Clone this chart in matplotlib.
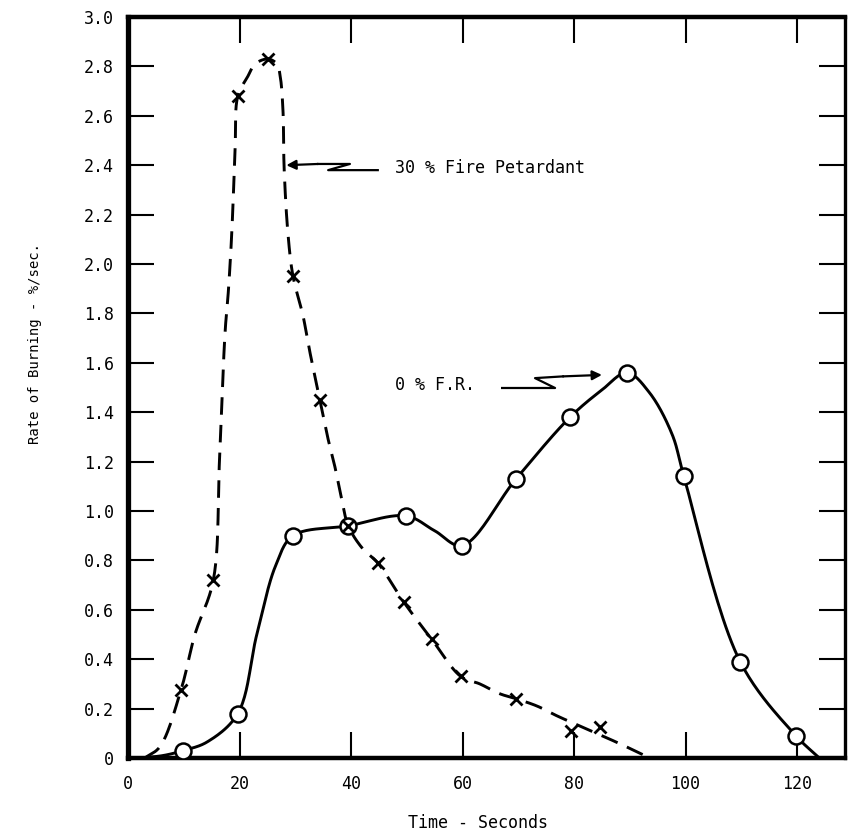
import numpy as np
import matplotlib
matplotlib.use("Agg")
import matplotlib.pyplot as plt

# ---------------- data ----------------
# 0 % F.R. (solid line, open circles)
fr0_x = [9.9, 19.7, 29.6, 39.5, 49.9, 59.9, 69.6, 79.3, 89.5, 99.7, 109.8, 119.8]
fr0_y = [0.03, 0.18, 0.90, 0.94, 0.98, 0.86, 1.13, 1.38, 1.56, 1.14, 0.39, 0.09]
# traced path of the solid curve
fr0_curve_x = [2.0, 6.3, 9.9, 14.2, 19.7, 23.1, 26.5, 29.6, 39.5, 49.9, 55.0, 59.9,
               69.6, 79.3, 85.0, 89.5, 93.5, 97.6, 99.7, 109.8, 119.8, 124.0]
fr0_curve_y = [0.0, 0.01, 0.03, 0.065, 0.18, 0.50, 0.78, 0.90, 0.94, 0.98, 0.92, 0.86,
               1.13, 1.38, 1.49, 1.56, 1.48, 1.31, 1.14, 0.39, 0.09, 0.0]

# 30 % Fire Retardant (dashed line, x markers)
fr30_x = [9.5, 15.3, 19.7, 25.1, 29.6, 34.4, 39.5, 44.8, 49.5, 54.5, 59.7, 69.6, 79.5, 84.7]
fr30_y = [0.275, 0.72, 2.68, 2.83, 1.95, 1.45, 0.94, 0.79, 0.63, 0.48, 0.33, 0.24, 0.11, 0.125]
# traced path of the dashed curve
fr30_curve_x = [3.0, 5.7, 9.5, 12.0, 15.3, 16.4, 17.4, 18.0, 18.6, 19.2, 19.7, 21.5, 22.8,
                25.1, 26.7, 27.3, 27.8, 28.0, 28.7, 29.6, 31.4, 32.3, 34.4, 35.9, 37.1,
                38.4, 39.5, 42.0, 44.8, 49.5, 54.5, 59.7, 63.1, 66.7, 69.6, 73.4, 77.0,
                82.0, 88.0, 93.6]
fr30_curve_y = [0.0, 0.045, 0.275, 0.50, 0.72, 1.20, 1.72, 1.89, 2.12, 2.45, 2.68, 2.76, 2.81,
                2.83, 2.81, 2.76, 2.62, 2.39, 2.12, 1.95, 1.79, 1.68, 1.45, 1.29, 1.18,
                1.04, 0.94, 0.85, 0.79, 0.63, 0.48, 0.33, 0.30, 0.26, 0.24, 0.21, 0.17,
                0.12, 0.06, 0.0]

x_ticks = [0, 20, 40, 60, 80, 100, 120]
x_tick_labels = ["0", "20", "40", "60", "80", "100", "120"]
y_ticks = [0, 0.2, 0.4, 0.6, 0.8, 1.0, 1.2, 1.4, 1.6, 1.8, 2.0, 2.2, 2.4, 2.6, 2.8, 3.0]
y_tick_labels = ["0", "0.2", "0.4", "0.6", "0.8", "1.0", "1.2", "1.4", "1.6", "1.8",
                 "2.0", "2.2", "2.4", "2.6", "2.8", "3.0"]

x_label = "Time - Seconds"
y_label = "Rate of Burning - %/sec."
label_fr30 = "30 % Fire Petardant"
label_fr0 = "0 % F.R."

XMAX, YMAX = 128.6, 3.0

# ---------------- smoothing helper (centripetal Catmull-Rom) ----------------
SX, SY = 5.575, 247.0  # approx. pixels per unit, to smooth in screen-like space


def smooth(xs, ys, n=25):
    P = np.column_stack([np.asarray(xs) * SX, np.asarray(ys) * SY])
    P = np.vstack([2 * P[0] - P[1], P, 2 * P[-1] - P[-2]])
    out = []
    for i in range(1, len(P) - 2):
        P0, P1, P2, P3 = P[i - 1], P[i], P[i + 1], P[i + 2]

        def tj(ti, a, b):
            return ti + max(np.linalg.norm(b - a), 1e-6) ** 0.5

        t0 = 0.0
        t1 = tj(t0, P0, P1)
        t2 = tj(t1, P1, P2)
        t3 = tj(t2, P2, P3)
        t = np.linspace(t1, t2, n)[:, None]
        A1 = (t1 - t) / (t1 - t0) * P0 + (t - t0) / (t1 - t0) * P1
        A2 = (t2 - t) / (t2 - t1) * P1 + (t - t1) / (t2 - t1) * P2
        A3 = (t3 - t) / (t3 - t2) * P2 + (t - t2) / (t3 - t2) * P3
        B1 = (t2 - t) / (t2 - t0) * A1 + (t - t0) / (t2 - t0) * A2
        B2 = (t3 - t) / (t3 - t1) * A2 + (t - t1) / (t3 - t1) * A3
        C = (t2 - t) / (t2 - t1) * B1 + (t - t1) / (t2 - t1) * B2
        out.append(C if i == 1 else C[1:])
    C = np.vstack(out)
    return C[:, 0] / SX, C[:, 1] / SY


# ---------------- figure ----------------
W, H = 848, 833
fig = plt.figure(figsize=(W / 100, H / 100), dpi=100)
ax = fig.add_axes([128 / W, 1 - 758 / H, (845 - 128) / W, (758 - 17) / H])
ax.set_xlim(0, XMAX)
ax.set_ylim(0, YMAX)

mono = "DejaVu Sans Mono"

# curves
cx, cy = smooth(fr30_curve_x, fr30_curve_y)
ax.plot(cx, cy, color="black", lw=2.1, linestyle=(0, (6, 3.5)), solid_capstyle="butt",
        clip_on=False, zorder=3)
sx_, sy_ = smooth(fr0_curve_x, fr0_curve_y)
ax.plot(sx_, sy_, color="black", lw=2.1, clip_on=False, zorder=3)

# markers
ax.plot(fr30_x, fr30_y, linestyle="none", marker="x", ms=9, mew=2.0, color="black", zorder=5)
ax.plot(fr0_x, fr0_y, linestyle="none", marker="o", ms=11.5, mew=1.8, mfc="white",
        mec="black", zorder=4)

# annotations
ax.plot([44.8, 35.9, 39.8, 34.1], [2.38, 2.38, 2.405, 2.405], color="black", lw=1.6,
        zorder=3)
ax.annotate("", xy=(28.4, 2.40), xytext=(34.1, 2.405),
            arrowprops=dict(arrowstyle="-|>", color="black", lw=1.6,
                            mutation_scale=14, shrinkA=0, shrinkB=0))
ax.text(47.9, 2.39, label_fr30, fontsize=12, family=mono, ha="left", va="center")

ax.plot([67.1, 76.6, 73.0, 78.0], [1.498, 1.498, 1.538, 1.545], color="black", lw=1.6,
        zorder=3)
ax.annotate("", xy=(85.0, 1.551), xytext=(78.0, 1.545),
            arrowprops=dict(arrowstyle="-|>", color="black", lw=1.6,
                            mutation_scale=14, shrinkA=0, shrinkB=0))
ax.text(47.9, 1.51, label_fr0, fontsize=12, family=mono, ha="left", va="center")

# ticks
ax.set_xticks(x_ticks)
ax.set_xticklabels(x_tick_labels, family=mono, fontsize=12)
ax.set_yticks(y_ticks)
ax.set_yticklabels(y_tick_labels, family=mono, fontsize=12)
ax.tick_params(axis="both", direction="in", length=19, width=1.5, color="black",
               top=True, right=True)
ax.tick_params(axis="x", pad=12)
ax.tick_params(axis="y", pad=10)

# spines
ax.spines["left"].set_linewidth(3.8)
ax.spines["bottom"].set_linewidth(3.2)
ax.spines["top"].set_linewidth(3.2)
ax.spines["right"].set_linewidth(2.4)

# axis labels
fig.text(478 / W, 1 - 823 / H, x_label, family=mono, fontsize=12, ha="center", va="center")
fig.text(35 / W, 1 - 343 / H, y_label, family=mono, fontsize=10, ha="center", va="center",
         rotation=90)

fig.savefig("out.png", dpi=100, facecolor="white")
